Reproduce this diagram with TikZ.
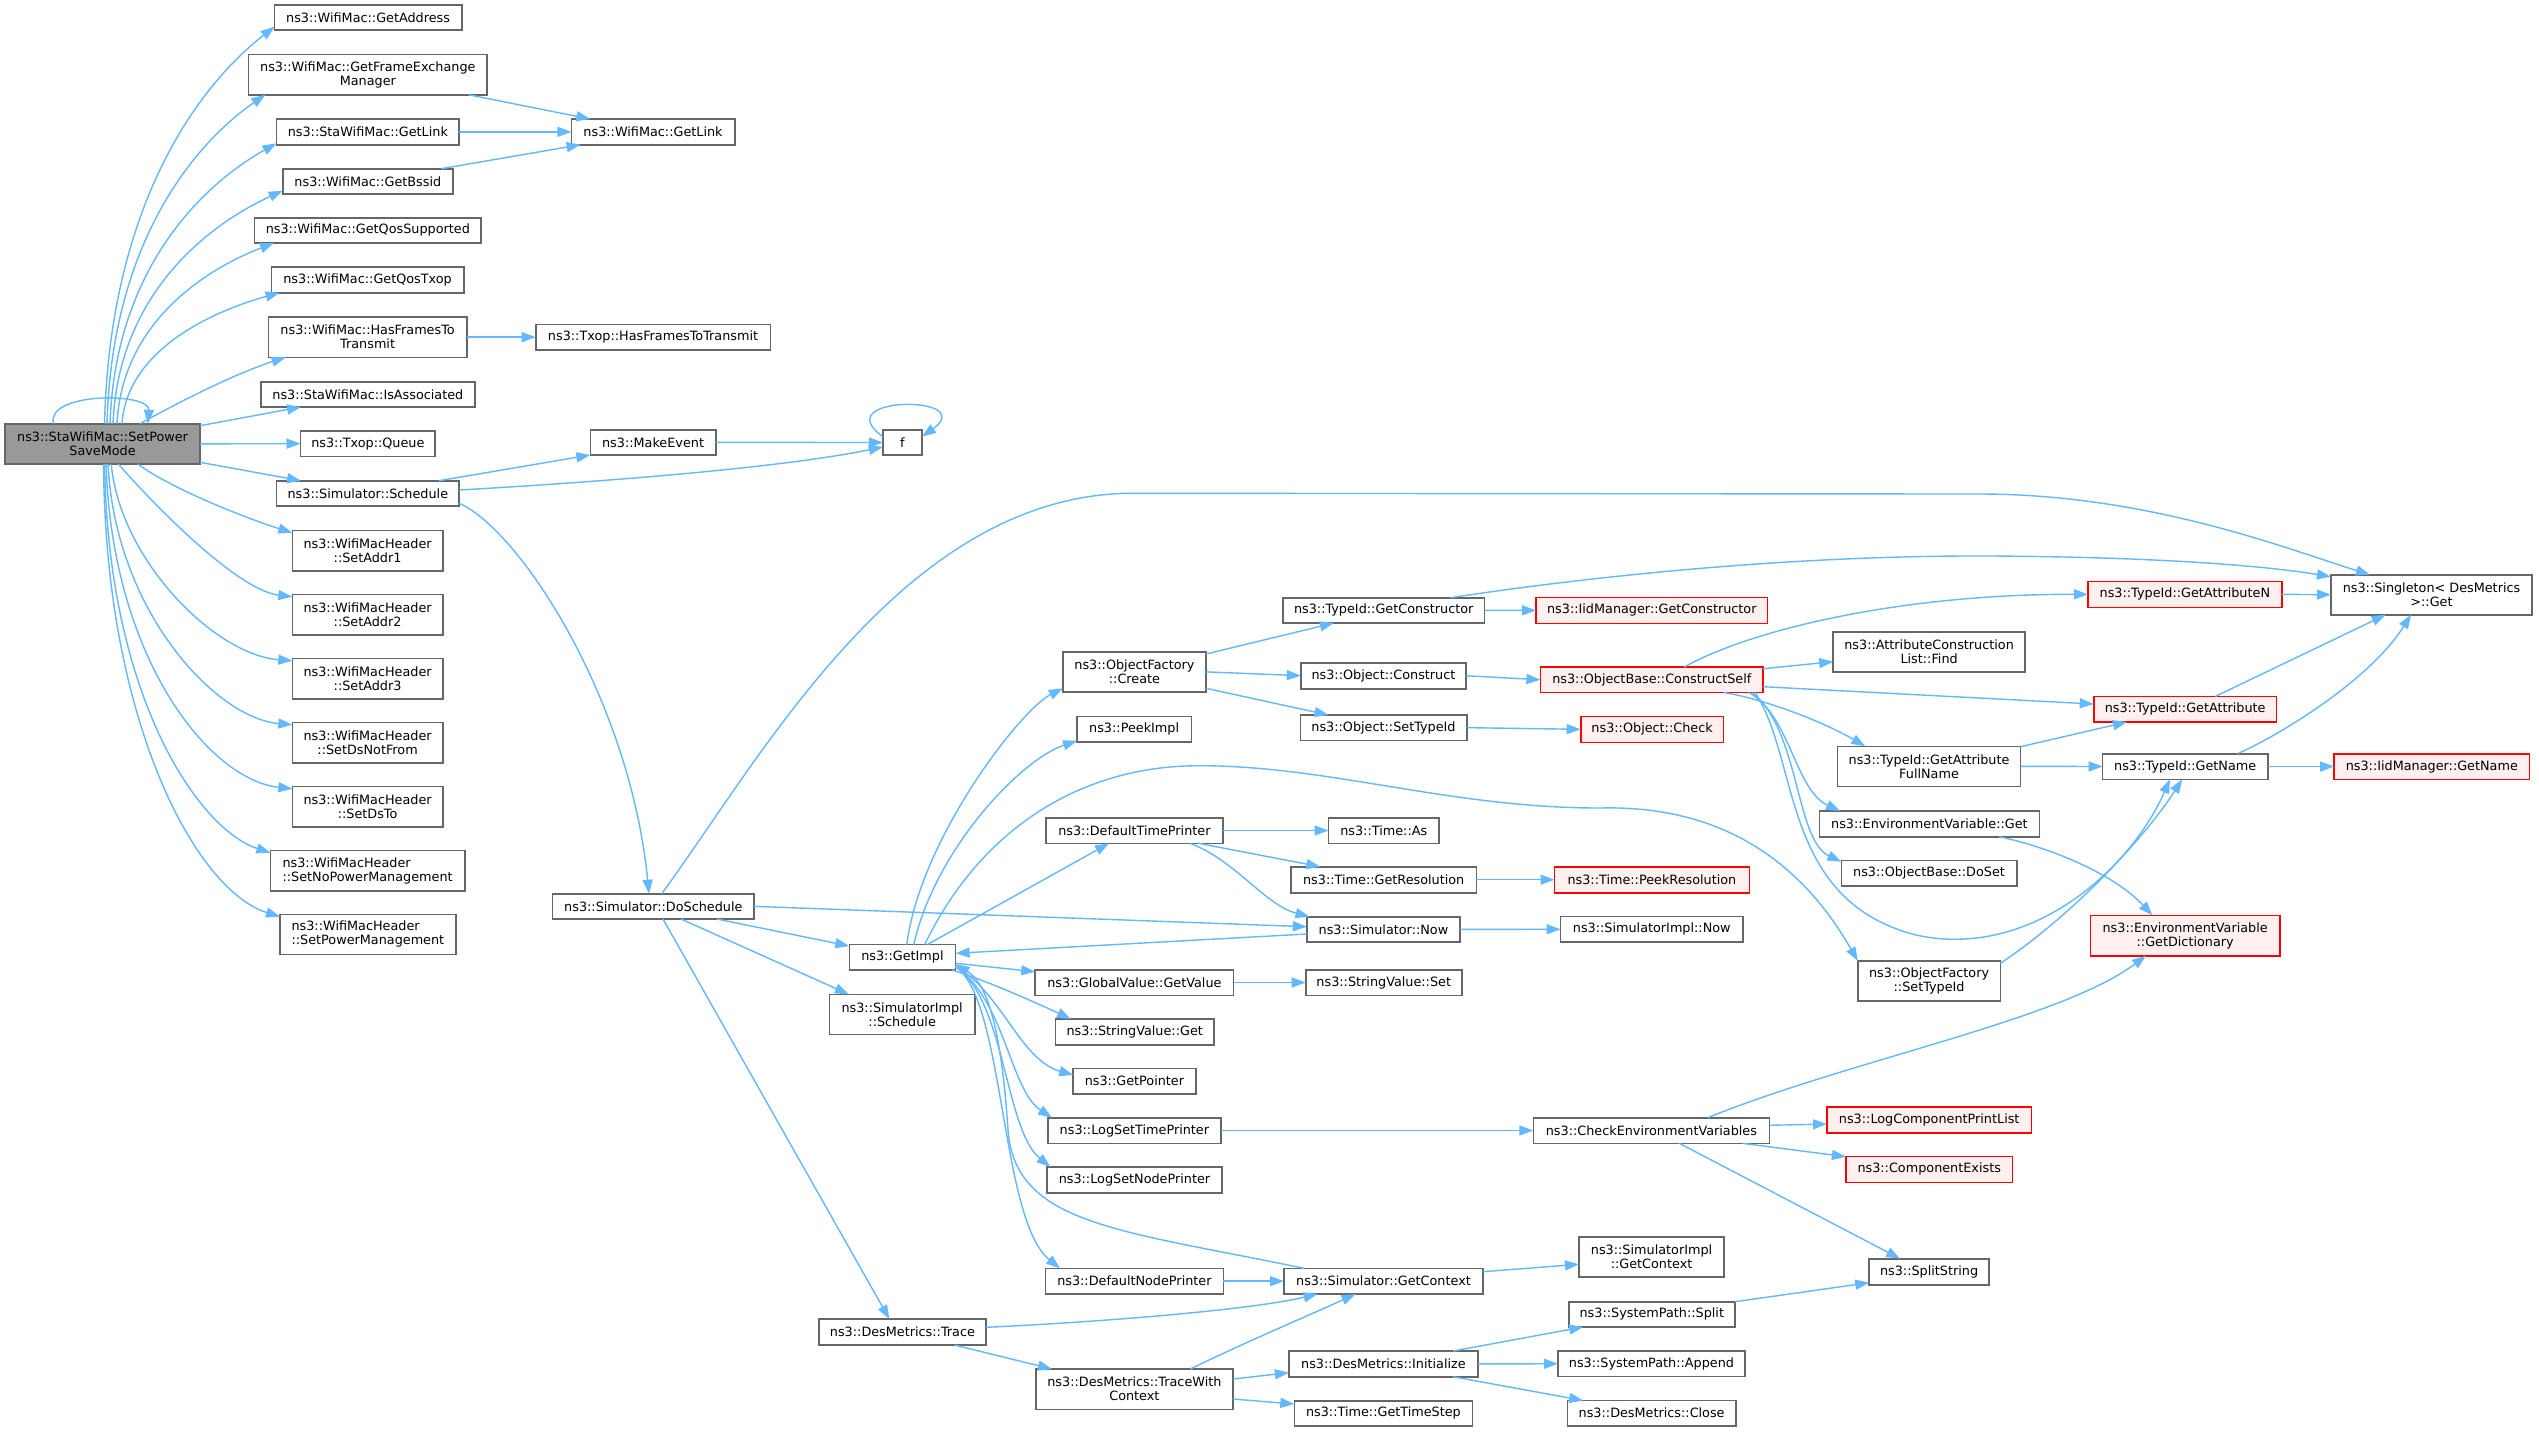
\documentclass[tikz,border=0pt]{standalone}
\usepackage{fontspec}
\setmainfont{DejaVu Sans}
\usetikzlibrary{arrows.meta,calc}
\definecolor{eblue}{HTML}{63B8FF}
\definecolor{bgray}{HTML}{666666}
\definecolor{rfill}{HTML}{FFF0F0}
\definecolor{rdraw}{HTML}{FF0000}
\definecolor{rootfill}{HTML}{999999}
\newcommand\mkbox[7][]{\node[box,#1,minimum width={(#5-#3)*0.5pt},minimum height={(#6-#4)*0.5pt}] (#2) at ({(#3+#5)/2},{(#4+#6)/2}) {#7};}
\begin{document}
\begin{tikzpicture}[x=0.5pt,y=-0.5pt,
 box/.style={draw=bgray,fill=white,line width=0.8pt,inner sep=0pt,outer sep=0pt,align=center,font=\fontsize{6.4}{7}\selectfont},
 redbox/.style={draw=rdraw,fill=rfill},
 rootbox/.style={fill=rootfill},
 conn/.style={draw=eblue,line width=0.7pt,-{Triangle[length=7pt,width=5pt]}}]
\fill[white] (0,0) rectangle (2539,1431);
\useasboundingbox (0,0) rectangle (2539,1431);
% ---- nodes: left
\mkbox[rootbox]{S}{5.1}{423.7}{200}{464}{ns3::StaWifiMac::SetPower\\SaveMode}
\mkbox{GA}{274.5}{4.7}{461.7}{30}{ns3::WifiMac::GetAddress}
\mkbox{GF}{248.5}{54.3}{487.2}{94.7}{ns3::WifiMac::GetFrameExchange\\Manager}
\mkbox{SL}{276.5}{119}{459.2}{144.7}{ns3::StaWifiMac::GetLink}
\mkbox{WL}{571.4}{119}{734.7}{144.7}{ns3::WifiMac::GetLink}
\mkbox{GB}{282.7}{168.7}{453}{194}{ns3::WifiMac::GetBssid}
\mkbox{QS}{254.6}{217.7}{481.1}{243}{ns3::WifiMac::GetQosSupported}
\mkbox{QT}{271.4}{267}{463.8}{292.7}{ns3::WifiMac::GetQosTxop}
\mkbox{HF}{268.4}{317}{466.8}{357.3}{ns3::WifiMac::HasFramesTo\\Transmit}
\mkbox{TH}{535.7}{324.3}{770.4}{350}{ns3::Txop::HasFramesToTransmit}
\mkbox{IA}{260.7}{381.7}{475}{407}{ns3::StaWifiMac::IsAssociated}
\mkbox{TQ}{300.5}{431}{435.2}{456.3}{ns3::Txop::Queue}
\mkbox{ME}{590.3}{429.7}{715.8}{455}{ns3::MakeEvent}
\mkbox{F}{882.9}{430}{922}{455}{f}
\mkbox{SC}{276.5}{480.7}{459.2}{506}{ns3::Simulator::Schedule}
\mkbox{A1}{292.3}{530.3}{442.9}{570.7}{ns3::WifiMacHeader\\::SetAddr1}
\mkbox{A2}{292.3}{594.3}{442.9}{634.7}{ns3::WifiMacHeader\\::SetAddr2}
\mkbox{A3}{292.3}{658.3}{442.9}{698.7}{ns3::WifiMacHeader\\::SetAddr3}
\mkbox{DN}{292.3}{722.3}{442.9}{762.7}{ns3::WifiMacHeader\\::SetDsNotFrom}
\mkbox{DT}{292.3}{786.3}{442.9}{826.7}{ns3::WifiMacHeader\\::SetDsTo}
\mkbox[align=left]{NP}{270.4}{850.3}{464.8}{890.7}{ns3::WifiMacHeader\\::SetNoPowerManagement}
\mkbox[align=left]{PM}{280}{914.3}{455.8}{954.5}{ns3::WifiMacHeader\\::SetPowerManagement}
\mkbox{DS}{552.6}{893.7}{754.1}{919}{ns3::Simulator::DoSchedule}
% ---- middle
\mkbox{GI}{849.3}{944.5}{955.6}{970}{ns3::GetImpl}
\mkbox{SIS}{829.3}{994.3}{975}{1034.3}{ns3::SimulatorImpl\\::Schedule}
\mkbox{TR}{819}{1319}{985.9}{1345}{ns3::DesMetrics::Trace}
\mkbox{OC}{1062.9}{651.7}{1206}{692}{ns3::ObjectFactory\\::Create}
\mkbox{PI}{1077}{716.3}{1191.3}{742}{ns3::PeekImpl}
\mkbox{DTP}{1046}{817.7}{1222.8}{843.3}{ns3::DefaultTimePrinter}
\mkbox{GV}{1035.2}{969.7}{1233.6}{995.3}{ns3::GlobalValue::GetValue}
\mkbox{SG}{1055.3}{1019}{1214.1}{1044.7}{ns3::StringValue::Get}
\mkbox{GP}{1073.2}{1068.3}{1195.7}{1094}{ns3::GetPointer}
\mkbox{LTP}{1047.7}{1117.7}{1221.1}{1143.3}{ns3::LogSetTimePrinter}
\mkbox{LNP}{1047.2}{1167}{1221.7}{1192.7}{ns3::LogSetNodePrinter}
\mkbox{DNP}{1045.5}{1268.3}{1223.3}{1294}{ns3::DefaultNodePrinter}
\mkbox{TWC}{1035.8}{1369}{1233}{1409.3}{ns3::DesMetrics::TraceWith\\Context}
% ---- next column
\mkbox{TGC}{1282.9}{597.7}{1484.5}{623}{ns3::TypeId::GetConstructor}
\mkbox{OCo}{1300.8}{662.7}{1466.1}{688.7}{ns3::Object::Construct}
\mkbox{OST}{1300.3}{715}{1466.7}{740.3}{ns3::Object::SetTypeId}
\mkbox{TA}{1328.5}{817.7}{1439}{843.3}{ns3::Time::As}
\mkbox{TGR}{1291}{866.7}{1476.4}{892.7}{ns3::Time::GetResolution}
\mkbox{SN}{1306.8}{916.7}{1460.1}{942}{ns3::Simulator::Now}
\mkbox{SVS}{1305.7}{969.7}{1461.8}{995.3}{ns3::StringValue::Set}
\mkbox{SGC}{1284}{1268.3}{1483}{1294}{ns3::Simulator::GetContext}
\mkbox{DMI}{1288.9}{1351}{1478}{1376.7}{ns3::DesMetrics::Initialize}
\mkbox{TGT}{1294.3}{1400.7}{1472.6}{1426}{ns3::Time::GetTimeStep}
% ---- next
\mkbox[redbox]{IGC}{1536}{597.3}{1767.6}{623.3}{ns3::IidManager::GetConstructor}
\mkbox[redbox]{CS}{1540.4}{667}{1763.2}{692.5}{ns3::ObjectBase::ConstructSelf}
\mkbox[redbox]{OCk}{1580.7}{716.3}{1723.5}{742.3}{ns3::Object::Check}
\mkbox[redbox]{TPR}{1554.5}{866.7}{1749.3}{892.7}{ns3::Time::PeekResolution}
\mkbox{SIN}{1560.5}{916.5}{1743}{942}{ns3::SimulatorImpl::Now}
\mkbox{CEV}{1533.3}{1117.7}{1769.5}{1143.3}{ns3::CheckEnvironmentVariables}
\mkbox{SIGC}{1579}{1237}{1724.1}{1277}{ns3::SimulatorImpl\\::GetContext}
\mkbox{SPS}{1568.7}{1301.7}{1734.9}{1327}{ns3::SystemPath::Split}
\mkbox{SPA}{1558}{1351}{1745}{1376.5}{ns3::SystemPath::Append}
\mkbox{DMC}{1567.3}{1400.5}{1736}{1425.8}{ns3::DesMetrics::Close}
% ---- next
\mkbox{ACL}{1833.2}{631.7}{2025}{672}{ns3::AttributeConstruction\\List::Find}
\mkbox{GAF}{1837.6}{746.3}{2020.5}{786.3}{ns3::TypeId::GetAttribute\\FullName}
\mkbox{EVG}{1819.3}{811}{2039.5}{836.7}{ns3::EnvironmentVariable::Get}
\mkbox{ODS}{1841.4}{860.3}{2016.7}{886}{ns3::ObjectBase::DoSet}
\mkbox{OFS}{1857.8}{961}{2000.4}{1001}{ns3::ObjectFactory\\::SetTypeId}
\mkbox[redbox]{LCP}{1827}{1106.7}{2031.4}{1132.7}{ns3::LogComponentPrintList}
\mkbox[redbox]{CE}{1845.9}{1156.3}{2012.5}{1182.3}{ns3::ComponentExists}
\mkbox{SS}{1869.2}{1258.7}{1989}{1284.7}{ns3::SplitString}
% ---- next
\mkbox[redbox]{GAN}{2088}{581.3}{2281.7}{607.3}{ns3::TypeId::GetAttributeN}
\mkbox[redbox]{GAt}{2093.7}{696.3}{2276.6}{722}{ns3::TypeId::GetAttribute}
\mkbox{GN}{2102.5}{753.7}{2267.8}{779.3}{ns3::TypeId::GetName}
\mkbox[redbox]{GD}{2090.5}{915.3}{2279.8}{955.7}{ns3::EnvironmentVariable\\::GetDictionary}
% ---- last
\mkbox{SGT}{2330.9}{574.7}{2532.1}{614.7}{ns3::Singleton< DesMetrics\\>::Get}
\mkbox[redbox]{IGN}{2334}{753.7}{2529.6}{779.3}{ns3::IidManager::GetName}
% ---- edges from S (top fan)
\draw[conn] ($(S.north)+(2,0)$) .. controls (109.7,205.4) and (198,86.3) .. ($(GA.south west)+(0,-3.3)$);
\draw[conn] ($(S.north)+(4.5,0)$) .. controls (111.7,242.7) and (194,144) .. ($(GF.south west)+(16.8,0)$);
\draw[conn] ($(S.north)+(7.5,0)$) .. controls (115,269.5) and (201.6,185.4) .. ($(SL.south west)+(0,-1.4)$);
\draw[conn] ($(S.north)+(10.5,0)$) .. controls (118.1,295.5) and (206.3,225.7) .. ($(GB.south west)+(0,-3.3)$);
\draw[conn] ($(S.north)+(14.5,0)$) .. controls (121.7,324.3) and (203.4,270.1) .. ($(QS.south west)+(19.4,0)$);
\draw[conn] ($(S.north)+(19.5,0)$) .. controls (126.7,351.7) and (208.7,312.4) .. ($(QT.south west)+(8.2,0)$);
\draw[conn] ($(S.north)+(37.5,0)$) .. controls (188,397) and (240,372) .. ($(HF.south west)+(17.3,0)$);
\draw[conn] ($(S.north west)+(48.5,0)$) .. controls (45,392) and (150,392) .. ($(S.north west)+(142.9,0)$);
\draw[conn] ($(S.north east)+(0,2)$) -- ($(IA.south west)+(40.3,0)$);
\draw[conn] (S.east) -- (TQ.west);
\draw[conn] ($(S.south east)+(0,-1.7)$) -- ($(SC.north west)+(24.5,0)$);
% ---- bottom fan
\draw[conn] ($(S.south)+(35.3,0)$) .. controls (170,488) and (245,518) .. ($(A1.north west)+(0,2.4)$);
\draw[conn] ($(S.south)+(15.9,0)$) .. controls (145,495) and (235,590) .. ($(A2.north west)+(0,2.4)$);
\draw[conn] ($(S.south)+(8.7,0)$) .. controls (120,560) and (215,655) .. ($(A3.north west)+(0,2.4)$);
\draw[conn] ($(S.south)+(5.5,0)$) .. controls (115,610) and (215,718) .. ($(DN.north west)+(0,2.4)$);
\draw[conn] ($(S.south)+(3.5,0)$) .. controls (112,660) and (210,780) .. ($(DT.north west)+(0,2.4)$);
\draw[conn] ($(S.south)+(2,0)$) .. controls (108,700) and (200,830) .. ($(NP.north west)+(0,2.4)$);
\draw[conn] ($(S.south)+(1,0)$) .. controls (105,720) and (195,890) .. ($(PM.north west)+(0,2.4)$);
% ---- upper left links
\draw[conn] ($(GF.south east)+(-18.8,0)$) -- ($(WL.north west)+(18.9,0)$);
\draw[conn] (SL.east) -- (WL.west);
\draw[conn] ($(GB.north east)+(-11.7,0)$) -- ($(WL.south west)+(9.2,0)$);
\draw[conn] (HF.east) -- (TH.west);
\draw[conn] ($(SC.north east)+(-20.4,0)$) -- (ME.south west);
\draw[conn] ($(SC.east)+(0,-3.35)$) .. controls (600,482) and (780,468) .. ($(F.west)+(0,4.5)$);
\draw[conn] (ME.east) -- (F.west);
\draw[conn] ($(F.north west)+(0,6.7)$) .. controls (825,395) and (980,395) .. ($(F.north east)+(0,6.7)$);
\draw[conn] ($(SC.south east)+(0,-2.7)$) .. controls (520,530) and (630,700) .. ($(DS.north)+(-4.35,0)$);
% ---- DoSchedule
\draw[conn] ($(DS.north)+(8.35,0)$) .. controls (760,760) and (900,500) .. (1125,493.3) -- (1979,494) .. controls (2150,494) and (2290,550) .. ($(SGT.north west)+(39.1,0)$);
\draw[conn] (DS.east) -- ($(SN.west)+(0,-2.65)$);
\draw[conn] ($(DS.south east)+(-37.3,0)$) -- ($(GI.north west)+(0,1.5)$);
\draw[conn] ($(DS.south)+(27.65,0)$) -- ($(SIS.north west)+(19.5,0)$);
\draw[conn] ($(DS.south)+(9.65,0)$) -- ($(TR.north west)+(70.4,0)$);
% ---- GetImpl
\draw[conn] ($(GI.north)+(4.35,0)$) .. controls (920,840) and (1020,710) .. ($(OC.south west)+(0,-3.7)$);
\draw[conn] ($(GI.north)+(11.35,0)$) .. controls (935,850) and (1020,760) .. ($(PI.south west)+(0,-1.3)$);
\draw[conn] ($(GI.north)+(25,0)$) -- ($(DTP.south west)+(63,0)$);
\draw[conn] ($(GI.north)+(22.25,0)$) .. controls (980,830) and (1080,765) .. (1201,765.7) .. controls (1330,766) and (1450,808) .. (1600,808) .. controls (1720,805) and (1800,860) .. (OFS.north west);
\draw[conn] ($(SN.west)+(0,4.65)$) -- ($(GI.east)+(0,-3.95)$);
\draw[conn] ($(GI.east)+(0,6)$) -- ($(GV.west)+(0,-10.8)$);
\draw[conn] ($(GI.south east)+(-3.8,0)$) .. controls (980,978) and (1030,1000) .. ($(SG.north west)+(15.7,0)$);
\draw[conn] ($(GI.east)+(0,9.4)$) .. controls (1000,990) and (1020,1060) .. ($(GP.west)+(0,-6.15)$);
\draw[conn] ($(GI.east)+(0,9.4)$) .. controls (1005,1000) and (1010,1090) .. ($(LTP.north west)+(4.3,0)$);
\draw[conn] ($(GI.east)+(0,9.4)$) .. controls (1005,1000) and (1005,1130) .. ($(LNP.north west)+(3.2,0)$);
\draw[conn] ($(GI.east)+(0,9.4)$) .. controls (1005,1000) and (1000,1220) .. ($(DNP.north west)+(14.5,0)$);
\draw[conn] ($(SGC.north west)+(20,0)$) .. controls (1120,1230) and (1015,1225) .. (1008,1130) .. controls (1002,1040) and (990,985) .. ($(GI.east)+(0,7)$);
% ---- printers / time
\draw[conn] (DTP.east) -- (TA.west);
\draw[conn] ($(DTP.south east)+(-24.4,0)$) -- ($(TGR.north west)+(29.3,0)$);
\draw[conn] ($(DTP.south east)+(-32.8,0)$) .. controls (1235,860) and (1265,905) .. ($(SN.north west)+(2.7,0)$);
\draw[conn] (TGR.east) -- (TPR.west);
\draw[conn] (SN.east) -- (SIN.west);
\draw[conn] (GV.east) -- (SVS.west);
% ---- ObjectFactory
\draw[conn] ($(OC.north east)+(0,2.3)$) -- ($(TGC.south west)+(51,0)$);
\draw[conn] (OC.east) -- (OCo.west);
\draw[conn] ($(OC.south east)+(0,-3.7)$) -- ($(OST.north west)+(28.2,0)$);
\draw[conn] (TGC.east) -- (IGC.west);
\draw[conn] ($(TGC.north east)+(-34.1,0)$) .. controls (1600,575) and (1800,555) .. (1991.5,556) .. controls (2150,557) and (2260,565) .. ($(SGT.north west)+(0,2)$);
\draw[conn] (OCo.east) -- (CS.west);
\draw[conn] (OST.east) -- (OCk.west);
% ---- ConstructSelf
\draw[conn] ($(CS.north)+(32.5,0)$) .. controls (1750,630) and (1900,594) .. (GAN.west);
\draw[conn] ($(CS.north east)+(0,1.7)$) -- ($(ACL.west)+(0,9.85)$);
\draw[conn] ($(CS.east)+(0,6.95)$) -- ($(GAt.west)+(0,-5.15)$);
\draw[conn] ($(CS.south east)+(-39.7,0)$) .. controls (1760,698) and (1820,720) .. ($(GAF.north west)+(27.8,0)$);
\draw[conn] ($(CS.south east)+(-14.5,0)$) .. controls (1790,715) and (1795,790) .. ($(EVG.north west)+(20.7,0)$);
\draw[conn] ($(CS.south east)+(-11.2,0)$) .. controls (1800,730) and (1795,840) .. ($(ODS.north west)+(0,1.4)$);
\draw[conn] ($(CS.south east)+(-8.2,0)$) .. controls (1800,760) and (1780,900) .. (1916,935) .. controls (2030,960) and (2130,870) .. ($(GN.south)+(-15.15,0)$);
\draw[conn] ($(OFS.north east)+(0,2.3)$) .. controls (2080,910) and (2150,830) .. ($(GN.south)+(-3,0)$);
\draw[conn] ($(GAF.north east)+(0,0.4)$) -- ($(GAt.south west)+(33.3,0)$);
\draw[conn] (GAF.east) -- (GN.west);
\draw[conn] ($(GAt.north)+(30.35,0)$) -- ($(SGT.south)+(-45.8,0)$);
\draw[conn] (GAN.east) -- (SGT.west);
\draw[conn] ($(GN.north)+(52.35,0)$) .. controls (2280,735) and (2370,680) .. ($(SGT.south)+(-20.5,0)$);
\draw[conn] (GN.east) -- (IGN.west);
\draw[conn] ($(EVG.south east)+(-40.5,0)$) .. controls (2040,845) and (2110,870) .. ($(GD.north west)+(62,0)$);
% ---- environment
\draw[conn] ($(CEV.north)+(56.3,0)$) .. controls (1850,1060) and (2060,1020) .. ($(GD.south west)+(55.5,0)$);
\draw[conn] ($(CEV.east)+(0,-5.2)$) -- ($(LCP.west)+(0,4.3)$);
\draw[conn] ($(CEV.south east)+(-27.1,0)$) -- ($(CE.west)+(0,-12.6)$);
\draw[conn] ($(CEV.south)+(27.9,0)$) -- ($(SS.north)+(-28.9,0)$);
\draw[conn] (LTP.east) -- (CEV.west);
\draw[conn] (SPS.north east) -- ($(SS.west)+(0,11)$);
% ---- context / metrics
\draw[conn] ($(SGC.east)+(0,-9.45)$) -- ($(SIGC.west)+(0,7.3)$);
\draw[conn] (DNP.east) -- (SGC.west);
\draw[conn] ($(TR.east)+(0,-4.7)$) .. controls (1100,1322) and (1250,1310) .. ($(SGC.south west)+(33.6,0)$);
\draw[conn] ($(TR.south east)+(-31.4,0)$) -- ($(TWC.north west)+(16.2,0)$);
\draw[conn] ($(TWC.north)+(55.8,0)$) .. controls (1250,1340) and (1310,1315) .. ($(SGC.south west)+(71.5,0)$);
\draw[conn] ($(TWC.east)+(0,-10.15)$) -- ($(DMI.west)+(0,8.85)$);
\draw[conn] ($(TWC.east)+(0,9.85)$) -- ($(TGT.west)+(0,-9.35)$);
\draw[conn] ($(DMI.north east)+(-25,0)$) -- ($(SPS.south west)+(14.5,0)$);
\draw[conn] (DMI.east) -- (SPA.west);
\draw[conn] ($(DMI.south east)+(-25,0)$) -- ($(DMC.north west)+(15.9,0)$);
\end{tikzpicture}
\end{document}
